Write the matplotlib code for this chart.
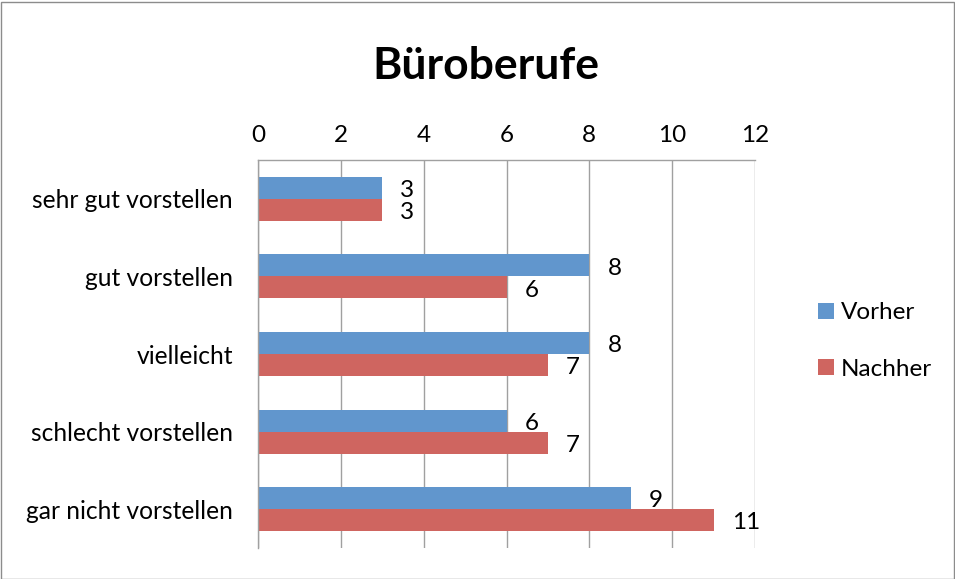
import matplotlib.pyplot as plt
import matplotlib.patches as mpatches
import numpy as np

plt.rcParams['font.family'] = ['Lato', 'DejaVu Sans']

categories = ["sehr gut vorstellen", "gut vorstellen", "vielleicht",
              "schlecht vorstellen", "gar nicht vorstellen"]
vorher = [3, 8, 8, 6, 9]
nachher = [3, 6, 7, 7, 11]
series_names = ["Vorher", "Nachher"]
xticks = [0, 2, 4, 6, 8, 10, 12]

blue = '#6196CD'
red = '#CF6560'
grid = '#A0A0A0'

fig = plt.figure(figsize=(9.55, 5.79), dpi=100)
ax = fig.add_axes([258/955, 1-548/579, (755-258)/955, (548-160)/579])

y = np.arange(len(categories))
h = 0.283
b1 = ax.barh(y - h/2, vorher, height=h, color=blue, label=series_names[0])
b2 = ax.barh(y + h/2, nachher, height=h, color=red, label=series_names[1])

for bars, vals in ((b1, vorher), (b2, nachher)):
    for bar, v in zip(bars, vals):
        ax.annotate(str(v), (v, bar.get_y() + bar.get_height()/2),
                    xytext=(13, -2), textcoords='offset points',
                    ha='left', va='center', fontsize=17.5)

ax.set_xlim(0, 12)
ax.set_ylim(len(categories) - 0.5, -0.5)
ax.set_xticks(xticks)
ax.xaxis.tick_top()
ax.tick_params(axis='x', length=0, labelsize=17.5, pad=10)
ax.set_yticks(y)
ax.set_yticklabels(categories)
ax.tick_params(axis='y', length=0, labelsize=17.7, pad=18)
ax.grid(axis='x', color=grid, linewidth=1)
ax.set_axisbelow(True)
for s in ('right', 'bottom'):
    ax.spines[s].set_visible(False)
for s in ('left', 'top'):
    ax.spines[s].set_color(grid)
    ax.spines[s].set_linewidth(1)

fig.text(486/955, 1-66/579, "Büroberufe", ha='center', va='center',
         fontsize=32, fontweight='bold')

fig.legend(handles=[b1, b2], loc='center left',
           bbox_to_anchor=(796/955, 1-341/579), frameon=False,
           fontsize=17.5, handlelength=0.65, handleheight=0.65,
           handletextpad=0.3, labelspacing=1.45)

fig.patches.append(mpatches.Rectangle((0.5/955, 0.5/579), 953/955, 577/579,
                                      transform=fig.transFigure, fill=False,
                                      edgecolor='#8C8C8C', linewidth=1))

fig.savefig('out.png', dpi=100)
